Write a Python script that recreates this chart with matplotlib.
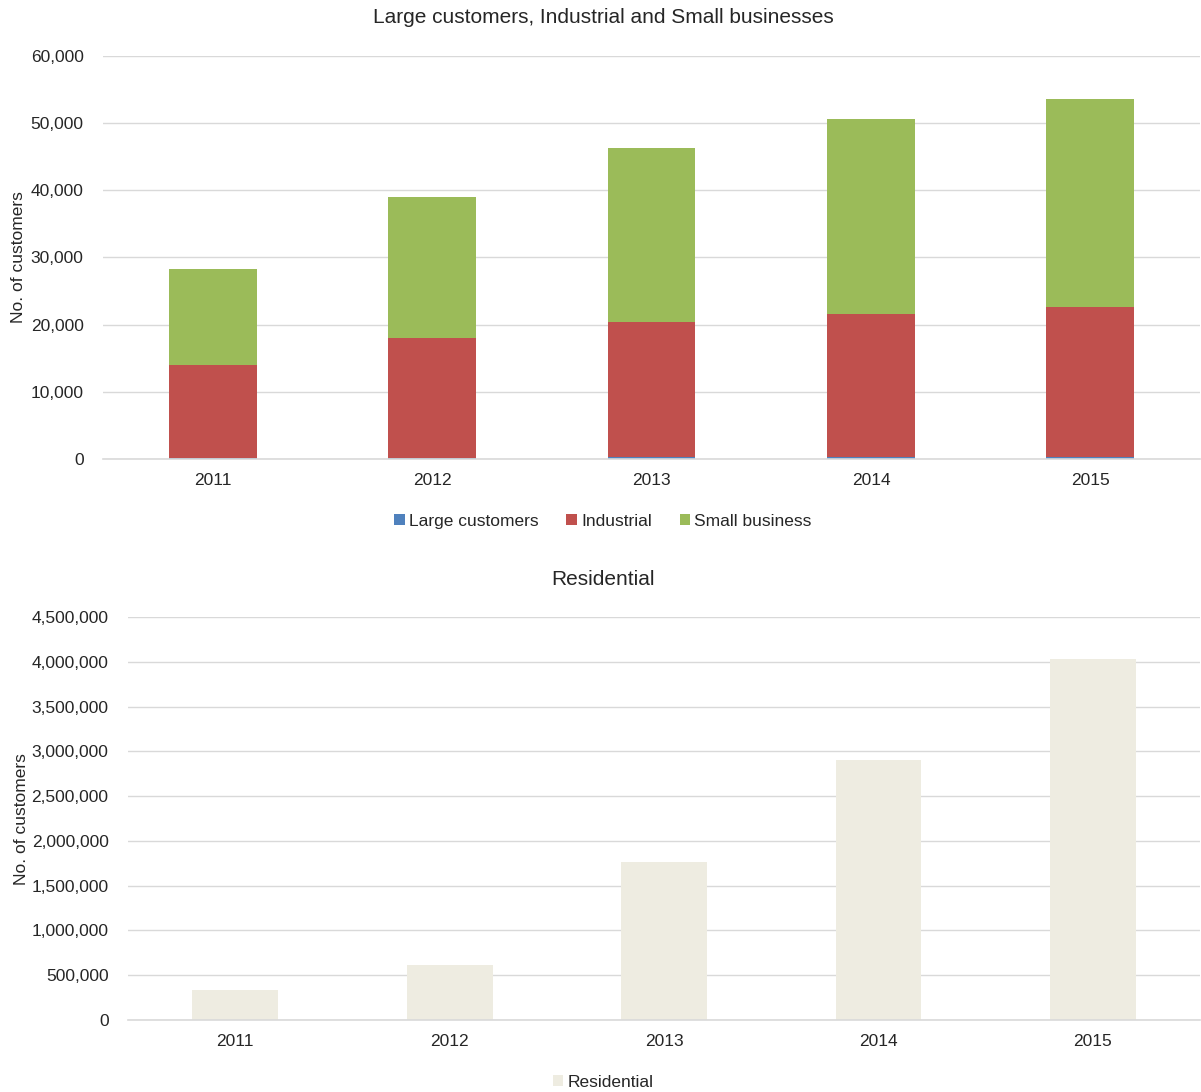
import matplotlib
matplotlib.use('Agg')
import matplotlib.pyplot as plt
from matplotlib.ticker import FuncFormatter

plt.rcParams['font.family'] = ['Liberation Sans', 'DejaVu Sans']

years = ['2011', '2012', '2013', '2014', '2015']
large = [100, 150, 250, 300, 350]
industrial = [13900, 17850, 20150, 21300, 22300]
small_business = [14300, 21000, 25900, 29000, 31000]
residential = [335000, 614000, 1764000, 2903000, 4031000]

grid_col = '#D9D9D9'
text_col = '#262626'
fmt = FuncFormatter(lambda v, p: f'{int(v):,}')


def style(ax):
    for s in ['top', 'right', 'left']:
        ax.spines[s].set_visible(False)
    ax.spines['bottom'].set_color(grid_col)
    ax.spines['bottom'].set_linewidth(1.2)
    ax.grid(axis='y', color=grid_col, linewidth=1)
    ax.set_axisbelow(True)
    ax.tick_params(length=0, labelsize=12.5, colors=text_col)
    ax.tick_params(axis='x', pad=10)
    ax.tick_params(axis='y', pad=14)
    ax.yaxis.set_major_formatter(fmt)
    ax.set_xlim(-0.5, len(years) - 0.5)
    ax.set_ylabel('No. of customers', fontsize=12.5, color=text_col)


fig = plt.figure(figsize=(12.01, 10.92), dpi=100)

# Top chart: stacked bars
ax1 = fig.add_axes([0.0858, 0.5797, 0.9134, 0.369])
x = range(len(years))
bottom2 = large
bottom3 = [a + b for a, b in zip(large, industrial)]
ax1.bar(x, large, 0.4, color='#4F81BD', label='Large customers')
ax1.bar(x, industrial, 0.4, bottom=bottom2, color='#C0504D', label='Industrial')
ax1.bar(x, small_business, 0.4, bottom=bottom3, color='#9BBB59', label='Small business')
ax1.set_ylim(0, 60000)
ax1.set_yticks(range(0, 60001, 10000))
ax1.set_xticks(list(x))
ax1.set_xticklabels(years)
style(ax1)
ax1.yaxis.set_label_coords(-0.07, 0.5)
fig.text(0.502, 0.984, 'Large customers, Industrial and Small businesses',
         ha='center', va='center', fontsize=15, color=text_col)
fig.legend(*ax1.get_legend_handles_labels(), loc='center', bbox_to_anchor=(0.502, 0.5228),
           ncol=3, frameon=False, fontsize=12.5, handlelength=0.6, handleheight=0.6,
           handletextpad=0.25, columnspacing=1.6, labelcolor=text_col)

# Bottom chart: residential
ax2 = fig.add_axes([0.1066, 0.0659, 0.8926, 0.369])
ax2.bar(x, residential, 0.4, color='#EEECE1', label='Residential')
ax2.set_ylim(0, 4500000)
ax2.set_yticks(range(0, 4500001, 500000))
ax2.set_xticks(list(x))
ax2.set_xticklabels(years)
style(ax2)
ax2.yaxis.set_label_coords(-0.092, 0.5)
fig.text(0.502, 0.4695, 'Residential', ha='center', va='center', fontsize=15, color=text_col)
fig.legend(*ax2.get_legend_handles_labels(), loc='center', bbox_to_anchor=(0.502, 0.009),
           ncol=1, frameon=False, fontsize=12.5, handlelength=0.6, handleheight=0.6,
           handletextpad=0.25, labelcolor=text_col)

fig.savefig('out.png', dpi=100)
